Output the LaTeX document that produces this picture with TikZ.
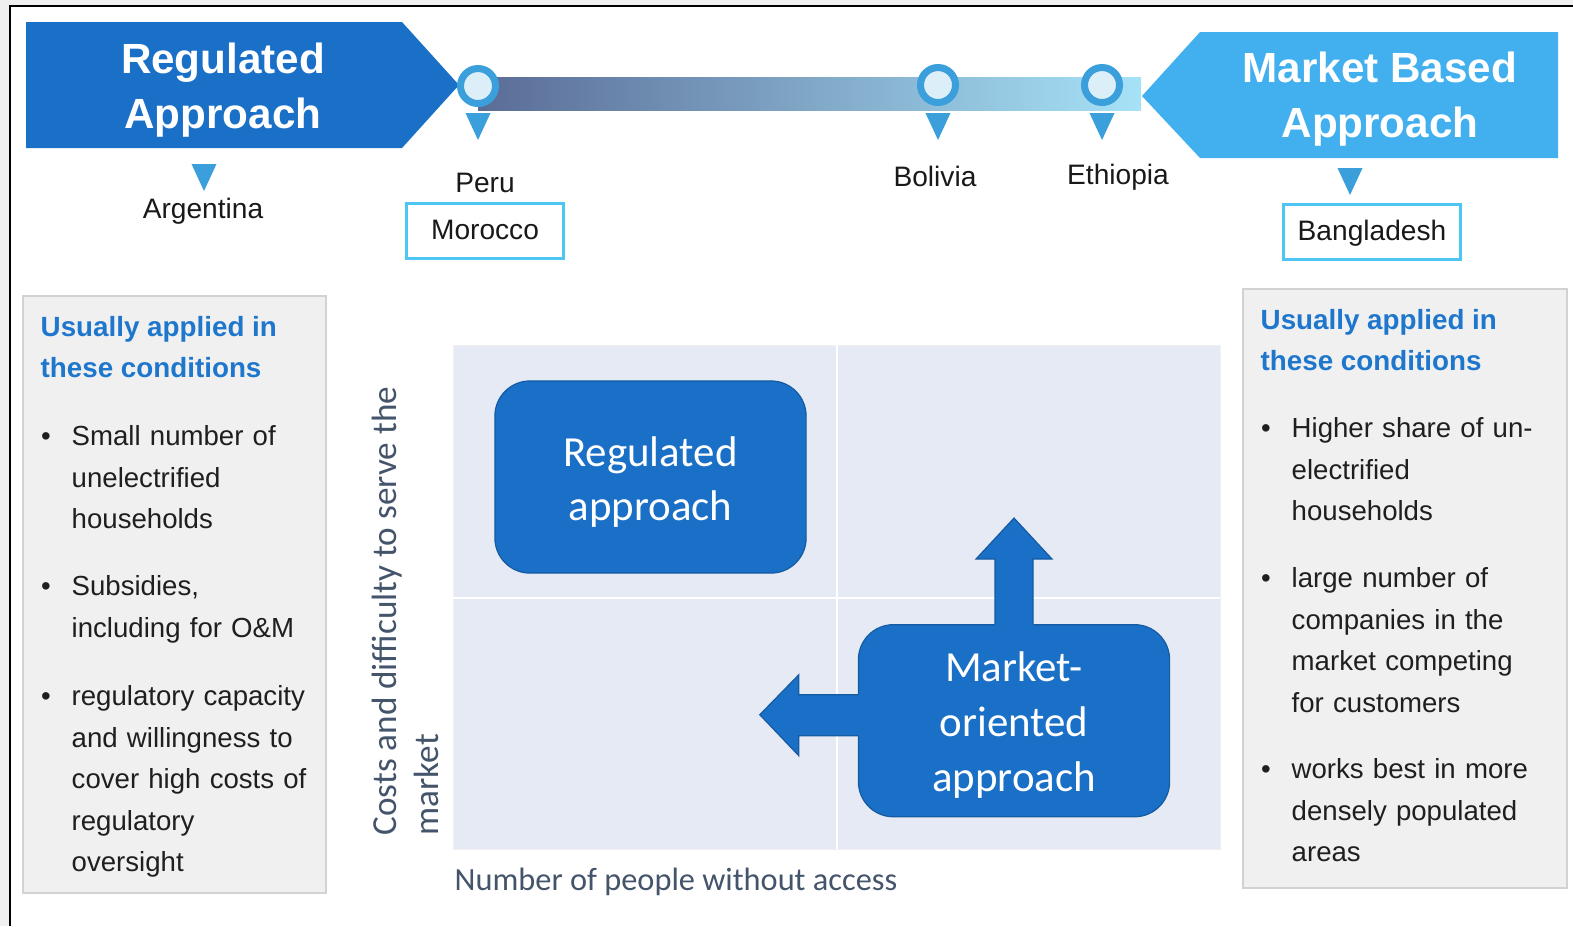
\documentclass[tikz,border=0pt]{standalone}
\usepackage{fontspec}
\setmainfont{Liberation Sans}
\newfontfamily\calibrifont{Carlito}
\usetikzlibrary{positioning}

\definecolor{regblue}{HTML}{1A6FC6}
\definecolor{mktblue}{HTML}{42B0EE}
\definecolor{pinblue}{HTML}{3A9FDA}
\definecolor{pinfill}{HTML}{DCEEF8}
\definecolor{boxcyan}{HTML}{4EC6F4}
\definecolor{headblue}{HTML}{1E77CC}
\definecolor{axisgrey}{HTML}{44546A}
\definecolor{quadbg}{HTML}{E6EAF5}
\definecolor{condgrey}{HTML}{F0F0F0}
\definecolor{condline}{HTML}{D2D2D2}
\definecolor{barleft}{HTML}{5A6C96}
\definecolor{barright}{HTML}{A6E2F7}

% hanging bullet for the condition lists
\newcommand{\condbullet}{\leavevmode\llap{\textbullet\hspace{2.1mm}}}

\tikzset{
    %Define style for the banner titles
    banner/.style={
           text=white,
           align=center,
           inner sep=0pt,
           font=\bfseries\fontsize{12}{15.4}\selectfont},
    %Define style for the rings on the bar
    ring/.style={
           circle,
           draw=pinblue, fill=pinfill,
           line width=0.07cm,
           minimum size=0.35cm,
           inner sep=0pt},
    country/.style={
           inner sep=0pt,
           text=black!90,
           font=\fontsize{8}{9.6}\selectfont},
    countrybox/.style={
           country,
           draw=boxcyan, fill=white,
           line width=0.03cm,
           text depth=0.02cm,
           minimum height=0.55cm},
    condbox/.style={
           fill=condgrey,
           draw=condline, line width=0.015cm},
    condhead/.style={
           anchor=north west,
           inner sep=0pt,
           align=left,
           text=headblue,
           font=\bfseries\fontsize{7.9}{11.6}\selectfont},
    condtext/.style={
           anchor=north west,
           inner sep=0pt,
           text width=2.9cm,
           align=left,
           text=black!88,
           font=\fontsize{7.85}{11.8}\selectfont},
    % Define style for the two approach boxes
    approach/.style={
           rounded corners=0.35cm,
           fill=regblue,
           draw=regblue!82!black, line width=0.012cm,
           minimum width=3.11cm,
           minimum height=1.92cm},
    boxtext/.style={
           text=white,
           align=center,
           inner sep=0pt,
           font=\calibrifont\fontsize{12.2}{15.6}\selectfont},
    arrowedge/.style={draw=regblue!82!black, line width=0.012cm},
    axislabel/.style={
           inner sep=0pt,
           text=axisgrey,
           font=\calibrifont\fontsize{10}{12}\selectfont},
    % Define pin tip
    drop/.pic={\fill[pinblue] (-12.5,0) -- (12.5,0) -- (0,27) -- cycle;}
}

\begin{document}
\begin{tikzpicture}[x=0.01cm, y=-0.01cm]
\useasboundingbox (0,0) rectangle (1573,926);
% frame
\fill[condgrey] (0,0) rectangle (1573,926);
\fill[white] (10,6) rectangle (1573,926);
\draw[line width=0.025cm] (10,926) -- (10,6) -- (1573,6);

% bar and banners
\shade[left color=barleft, right color=barright] (478,77) rectangle (1141,110);
\fill[regblue] (26,22) -- (402,22) -- (459,85) -- (402,148) -- (26,148) -- cycle;
\fill[mktblue] (1142,96) -- (1200,32) -- (1558,32) -- (1558,158) -- (1200,158) -- cycle;
\node[banner] (regtitle) at (223,90) {Regulated\\Approach};
\node[banner] (mkttitle) at (1380,99) {Market Based\\Approach};

% countries
\node[ring] (ringperu) at (478,86) {};
\node[ring] (ringbolivia) at (938,85) {};
\node[ring] (ringethiopia) at (1102,85) {};
\pic at (478,113) {drop};
\pic at (938,113) {drop};
\pic at (1102,113) {drop};
\pic at (204,164) {drop};
\pic at (1350,168) {drop};
\node[country] (argentina) at (203,211) {Argentina};
\node[countrybox, minimum width=1.57cm] (morocco) at (485,230.5) {Morocco};
\node[country, above=0.08cm of morocco] (peru) {Peru};
\node[country] (bolivia) at (935,176) {Bolivia};
\node[country] (ethiopia) at (1118,177) {Ethiopia};
\node[countrybox, minimum width=1.77cm] (bangladesh) at (1372,231.5) {Bangladesh};

% conditions, left
\draw[condbox] (23,296) rectangle (326,893);
\node[condhead] (lhead) at (40,316) {Usually applied in\\these conditions};
\node[condtext] (l1) at (71,425) {\condbullet Small number of\\unelectrified\\households};
\node[condtext] (l2) at (71,575) {\condbullet Subsidies,\\including for O\&M};
\node[condtext] (l3) at (71,685) {\condbullet regulatory capacity\\and willingness to\\cover high costs of\\regulatory\\oversight};

% conditions, right
\draw[condbox] (1243,289) rectangle (1567,888);
\node[condhead] (rhead) at (1260,309) {Usually applied in\\these conditions};
\node[condtext] (r1) at (1291,417) {\condbullet Higher share of un-\\electrified\\households};
\node[condtext] (r2) at (1291,567) {\condbullet large number of\\companies in the\\market competing\\for customers};
\node[condtext] (r3) at (1291,758) {\condbullet works best in more\\densely populated\\areas};

% quadrant
\fill[quadbg] (453,345) rectangle (1220,849);
\draw[black!6, line width=0.01cm] (453,345) rectangle (1220,849);
\draw[white, line width=0.025cm] (837,345) -- (837,849) (453,598) -- (1220,598);
\node[approach] (reg) at (650.5,477) {};
\node[approach] (mkt) at (1014,720.7) {};
\node[boxtext] (regtext) at ([yshift=-0.05cm]reg.center) {Regulated\\approach};
\node[boxtext] (mkttext) at ([yshift=-0.04cm]mkt.center) {Market-\\oriented\\approach};
\begin{scope}[shift={(mkt.north)}]
  \fill[regblue] (-19,8) -- (-19,-65) -- (-38,-65) -- (0,-106) -- (38,-65) -- (19,-65) -- (19,8) -- cycle;
  \draw[arrowedge] (-19,0) -- (-19,-65) -- (-38,-65) -- (0,-106) -- (38,-65) -- (19,-65) -- (19,0);
\end{scope}
\begin{scope}[shift={(mkt.west)}]
  \fill[regblue] (8,-26) -- (-59,-26) -- (-59,-46) -- (-98,-6) -- (-59,35) -- (-59,15) -- (8,15) -- cycle;
  \draw[arrowedge] (0,-26) -- (-59,-26) -- (-59,-46) -- (-98,-6) -- (-59,35) -- (-59,15) -- (0,15);
\end{scope}
\node[axislabel, rotate=90, anchor=north west, align=left] (ylab) at (371,836) {Costs and difficulty to serve the\\market};
\node[axislabel, anchor=base west, font=\calibrifont\fontsize{9.2}{11}\selectfont] (xlab) at (454,890) {Number of people without access};
\end{tikzpicture}
\end{document}
